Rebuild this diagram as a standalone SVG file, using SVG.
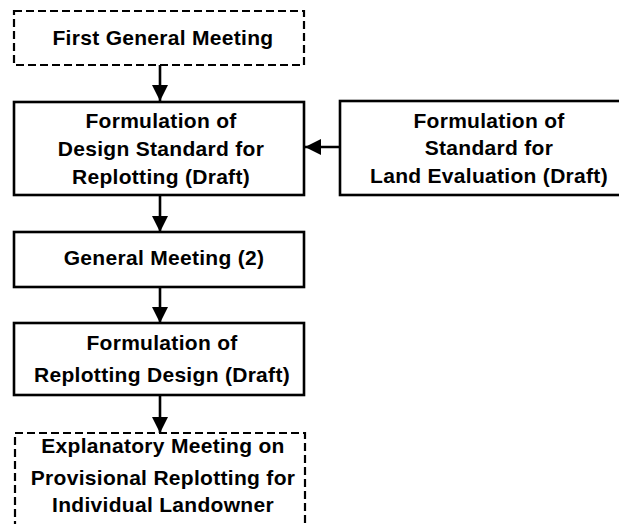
<svg xmlns="http://www.w3.org/2000/svg" width="619" height="524" viewBox="0 0 619 524">
<defs>
<style>
.box{fill:#fff;stroke:#000;stroke-width:2.6}
.dash{fill:#fff;stroke:#000;stroke-width:2.2;stroke-dasharray:8 4}
.t{font-family:"Liberation Sans",Arial,sans-serif;font-weight:bold;font-size:21px;letter-spacing:0.3px;fill:#000;text-anchor:middle}
.c{stroke:#000;stroke-width:2.6;fill:none}
</style>
<marker id="ah" markerUnits="userSpaceOnUse" markerWidth="18" markerHeight="18" viewBox="0 0 18 18" refX="16" refY="9" orient="auto">
<path d="M0,1 L16,9 L0,17 Z" fill="#000"/>
</marker>
</defs>
<rect width="619" height="524" fill="#fff"/>
<g id="connectors">
<line class="c" x1="160" y1="65" x2="160" y2="101" marker-end="url(#ah)"/>
<line class="c" x1="160" y1="195" x2="160" y2="232" marker-end="url(#ah)"/>
<line class="c" x1="160" y1="287" x2="160" y2="323" marker-end="url(#ah)"/>
<line class="c" x1="160" y1="395" x2="160" y2="433" marker-end="url(#ah)"/>
<line class="c" x1="340" y1="147" x2="305" y2="147" marker-end="url(#ah)"/>
</g>
<g id="n1">
<rect class="dash" x="14" y="11" width="290" height="54"/>
<text class="t" x="163" y="45">First General Meeting</text>
</g>
<g id="n2">
<rect class="box" x="14" y="102" width="290" height="93"/>
<text class="t" x="161" y="128">Formulation of</text>
<text class="t" x="161" y="156">Design Standard for</text>
<text class="t" x="161" y="184">Replotting (Draft)</text>
</g>
<g id="n6">
<rect class="box" x="340" y="101" width="300" height="94"/>
<text class="t" x="489" y="128">Formulation of</text>
<text class="t" x="489" y="155">Standard for</text>
<text class="t" x="489" y="183">Land Evaluation (Draft)</text>
</g>
<g id="n3">
<rect class="box" x="14" y="232" width="290" height="55"/>
<text class="t" x="164" y="265">General Meeting (2)</text>
</g>
<g id="n4">
<rect class="box" x="14" y="323" width="290" height="72"/>
<text class="t" x="162" y="350">Formulation of</text>
<text class="t" x="162" y="382">Replotting Design (Draft)</text>
</g>
<g id="n5">
<rect class="dash" x="15" y="433" width="290" height="100"/>
<text class="t" x="163" y="453">Explanatory Meeting on</text>
<text class="t" x="163" y="485">Provisional Replotting for</text>
<text class="t" x="163" y="512">Individual Landowner</text>
</g>
</svg>
